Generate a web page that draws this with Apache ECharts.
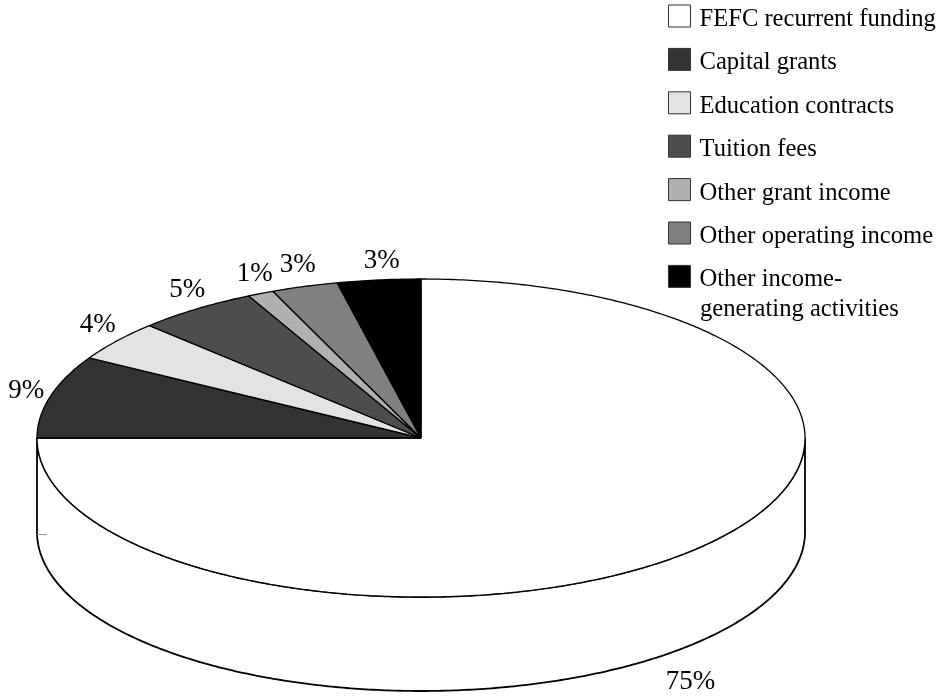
<!DOCTYPE html>
<html>
<head>
<meta charset="utf-8">
<style>
html, body { margin: 0; padding: 0; background: #fff; }
#main { width: 944px; height: 696px; }
</style>
<script src="https://cdn.jsdelivr.net/npm/echarts@6/dist/echarts.min.js"></script>
</head>
<body>
<div id="main"></div>
<script>
// data
var categories = ['FEFC recurrent funding', 'Capital grants', 'Education contracts', 'Tuition fees',
	'Other grant income', 'Other operating income', 'Other income-'];
var shares = [75, 8.4, 4.1, 5.1, 1.1, 2.8, 3.5];
var shareLabels = ['75%', '9%', '4%', '5%', '1%', '3%', '3%'];
var colors = ['#ffffff', '#333333', '#e3e3e3', '#4d4d4d', '#b0b0b0', '#808080', '#000000'];

// look of the tilted pie
var cx = 421, cy = 438, rx = 384, ry = 159, depth = 94;
var fontFamily = '"Liberation Serif", serif';
// label nudge from the rim point of each slice
var labelNudge = [[-2, 131], [-24, -6], [-19, -16], [-9, -19], [-6, -20], [-7, -22], [3, -19]];

var total = shares.reduce(function (a, b) { return a + b; }, 0);

function rim (a, drop) {
	return [cx + rx * Math.sin(a), cy - ry * Math.cos(a) + (drop || 0)];
}

function arcPoints (from, to, drop) {
	var pts = [];
	var steps = Math.max(2, Math.ceil((to - from) / 0.01));
	for (var i = 0; i <= steps; i++) {
		pts.push(rim(from + (to - from) * i / steps, drop));
	}
	return pts;
}

function renderSlice (params, api) {
	var idx = params.seriesIndex;
	var before = 0;
	for (var i = 0; i < idx; i++) before += shares[i];
	var start = before / total * Math.PI * 2;
	var end = (before + api.value(0)) / total * Math.PI * 2;
	var children = [];

	// side wall only where the slice faces the viewer
	var wallFrom = Math.max(start, Math.PI / 2);
	var wallTo = Math.min(end, Math.PI * 3 / 2);
	if (wallTo > wallFrom) {
		children.push({
			type: 'polygon',
			shape: { points: arcPoints(wallFrom, wallTo, depth).concat(arcPoints(wallFrom, wallTo, 0).reverse()) },
			style: { fill: colors[idx], stroke: '#000', lineWidth: 1.8 }
		});
	}
	children.push({
		type: 'polygon',
		shape: { points: [[cx, cy]].concat(arcPoints(start, end, 0)) },
		style: { fill: colors[idx], stroke: '#000', lineWidth: 1.3, lineJoin: 'bevel' }
	});

	var mid = rim((start + end) / 2);
	children.push({
		type: 'text',
		style: {
			text: shareLabels[idx],
			x: mid[0] + labelNudge[idx][0],
			y: mid[1] + labelNudge[idx][1],
			align: 'center',
			verticalAlign: 'middle',
			font: '27px ' + fontFamily,
			fill: '#000'
		}
	});
	return { type: 'group', children: children };
}

var series = categories.map(function (name, i) {
	return {
		name: name,
		type: 'custom',
		coordinateSystem: 'none',
		silent: true,
		animation: false,
		itemStyle: { color: colors[i] },
		data: [shares[i]],
		renderItem: renderSlice
	};
});

var chart = echarts.init(document.getElementById('main'));
chart.setOption({
	animation: false,
	legend: {
		orient: 'vertical',
		left: 668,
		top: 3,
		padding: 0,
		itemWidth: 22,
		itemHeight: 22,
		itemGap: 14.4,
		selectedMode: false,
		icon: 'rect',
		itemStyle: { borderColor: '#333', borderWidth: 1 },
		formatter: function (name) {
			return '{a|' + name + '}';
		},
		textStyle: {
			rich: {
				a: {
					fontFamily: fontFamily,
					fontSize: 24.6,
					lineHeight: 26,
					color: '#000',
					verticalAlign: 'top',
					padding: [4, 0, 0, 4]
				}
			}
		},
		data: categories
	},
	graphic: [
		{
			type: 'text',
			left: 700,
			top: 297,
			style: { text: 'generating activities', font: '24.6px ' + fontFamily, fill: '#000' }
		},
		{
			type: 'line',
			z: 10,
			shape: { x1: 37, y1: 534.5, x2: 47, y2: 534.5 },
			style: { stroke: '#999', lineWidth: 1 }
		}
	],
	series: series
});
</script>
</body>
</html>
